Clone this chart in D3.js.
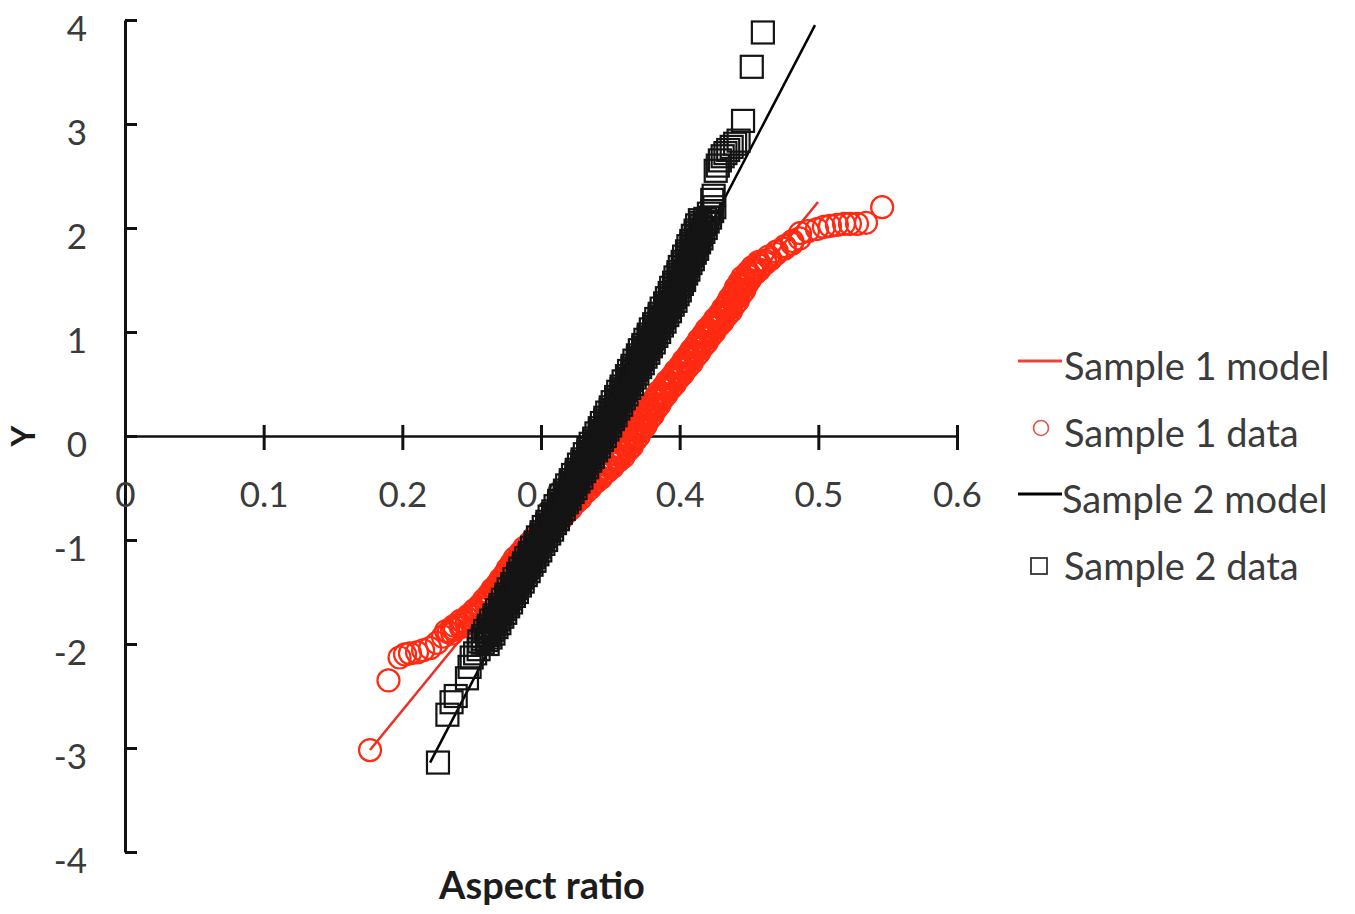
<!DOCTYPE html>
<html>
<head>
<meta charset="utf-8">
<script src="https://cdn.jsdelivr.net/npm/d3@7/dist/d3.min.js"></script>
<style>
  html, body { margin: 0; padding: 0; background: #fff; }
  svg { display: block; font-family: Lato, "Open Sans", sans-serif; }
</style>
</head>
<body>
<svg id="chart" width="1355" height="914"></svg>
<script>
// Tick values and labels
const xTicks = [0, 0.1, 0.2, 0.3, 0.4, 0.5, 0.6];
const xTickLabels = ["0", "0.1", "0.2", "0.3", "0.4", "0.5", "0.6"];
const yTicks = [-4, -3, -2, -1, 0, 1, 2, 3, 4];
const yTickLabels = ["-4", "-3", "-2", "-1", "0", "1", "2", "3", "4"];

// Fitted normal models: end points [aspect ratio, Y]
const sample1Model = [[0.1767, -3.02], [0.4998, 2.25]];
const sample2Model = [[0.2200, -3.14], [0.4976, 3.95]];

// Sample 1 observations [aspect ratio, Y]
const sample1Data = [
  [.1767,-3.02],[.1900,-2.35],[.1980,-2.13],[.2020,-2.10],[.2055,-2.09],[.2106,-2.08],
  [.2150,-2.06],[.2200,-2.04],[.2250,-1.99],[.2293,-1.93],
  [.2360,-1.9],[.2333,-1.8875],[.2316,-1.875],[.2379,-1.8625],[.2358,-1.85],[.2421,-1.8375],[.2374,-1.825],[.2422,-1.8125],
  [.2465,-1.8],[.2438,-1.7875],[.2421,-1.775],[.2484,-1.7625],[.2463,-1.75],[.2526,-1.7375],[.2479,-1.725],[.2527,-1.7125],
  [.2570,-1.7],[.2539,-1.6875],[.2519,-1.675],[.2578,-1.6625],[.2553,-1.65],[.2612,-1.6375],[.2561,-1.625],[.2606,-1.6125],
  [.2645,-1.6],[.2613,-1.5875],[.2590,-1.575],[.2648,-1.5625],[.2620,-1.55],[.2678,-1.5375],[.2625,-1.525],[.2668,-1.5125],
  [.2705,-1.5],[.2673,-1.4875],[.2650,-1.475],[.2708,-1.4625],[.2680,-1.45],[.2738,-1.4375],[.2685,-1.425],[.2728,-1.4125],
  [.2765,-1.4],[.2732,-1.3875],[.2709,-1.375],[.2766,-1.3625],[.2738,-1.35],[.2794,-1.3375],[.2741,-1.325],[.2783,-1.3125],
  [.2820,-1.3],[.2786,-1.2875],[.2761,-1.275],[.2817,-1.2625],[.2788,-1.25],[.2843,-1.2375],[.2789,-1.225],[.2829,-1.2125],
  [.2865,-1.2],[.2833,-1.1875],[.2811,-1.175],[.2869,-1.1625],[.2843,-1.15],[.2901,-1.1375],[.2849,-1.125],[.2892,-1.1125],
  [.2930,-1.1],[.2899,-1.0875],[.2879,-1.075],[.2938,-1.0625],[.2913,-1.05],[.2972,-1.0375],[.2921,-1.025],[.2966,-1.0125],
  [.3005,-1],[.2974,-0.9875],[.2953,-0.975],[.3011,-0.9625],[.2985,-0.95],[.3044,-0.9375],[.2993,-0.925],[.3036,-0.9125],
  [.3075,-0.9],[.3044,-0.8875],[.3023,-0.875],[.3081,-0.8625],[.3055,-0.85],[.3114,-0.8375],[.3063,-0.825],[.3106,-0.8125],
  [.3145,-0.8],[.3114,-0.7875],[.3093,-0.775],[.3151,-0.7625],[.3125,-0.75],[.3184,-0.7375],[.3133,-0.725],[.3176,-0.7125],
  [.3215,-0.7],[.3184,-0.6875],[.3163,-0.675],[.3221,-0.6625],[.3195,-0.65],[.3254,-0.6375],[.3203,-0.625],[.3246,-0.6125],
  [.3285,-0.6],[.3254,-0.5875],[.3233,-0.575],[.3291,-0.5625],[.3265,-0.55],[.3324,-0.5375],[.3273,-0.525],[.3316,-0.5125],
  [.3355,-0.5],[.3325,-0.4875],[.3305,-0.475],[.3365,-0.4625],[.3340,-0.45],[.3400,-0.4375],[.3350,-0.425],[.3395,-0.4125],
  [.3435,-0.4],[.3405,-0.3875],[.3385,-0.375],[.3445,-0.3625],[.3420,-0.35],[.3480,-0.3375],[.3430,-0.325],[.3475,-0.3125],
  [.3515,-0.3],[.3485,-0.2875],[.3465,-0.275],[.3525,-0.2625],[.3500,-0.25],[.3560,-0.2375],[.3510,-0.225],[.3555,-0.2125],
  [.3595,-0.2],[.3563,-0.1875],[.3540,-0.175],[.3598,-0.1625],[.3570,-0.15],[.3628,-0.1375],[.3575,-0.125],[.3618,-0.1125],
  [.3655,-0.1],[.3621,-0.0875],[.3598,-0.075],[.3654,-0.0625],[.3625,-0.05],[.3681,-0.0375],[.3628,-0.025],[.3669,-0.0125],
  [.3705,0],[.3671,0.0125],[.3648,0.025],[.3704,0.0375],[.3675,0.05],[.3731,0.0625],[.3678,0.075],[.3719,0.0875],
  [.3755,0.1],[.3721,0.1125],[.3698,0.125],[.3754,0.1375],[.3725,0.15],[.3781,0.1625],[.3728,0.175],[.3769,0.1875],
  [.3805,0.2],[.3771,0.2125],[.3748,0.225],[.3804,0.2375],[.3775,0.25],[.3831,0.2625],[.3778,0.275],[.3819,0.2875],
  [.3855,0.3],[.3821,0.3125],[.3798,0.325],[.3854,0.3375],[.3825,0.35],[.3881,0.3625],[.3828,0.375],[.3869,0.3875],
  [.3905,0.4],[.3873,0.4125],[.3850,0.425],[.3908,0.4375],[.3880,0.45],[.3938,0.4625],[.3885,0.475],[.3928,0.4875],
  [.3965,0.5],[.3933,0.5125],[.3910,0.525],[.3968,0.5375],[.3940,0.55],[.3998,0.5625],[.3945,0.575],[.3988,0.5875],
  [.4025,0.6],[.3993,0.6125],[.3970,0.625],[.4028,0.6375],[.4000,0.65],[.4058,0.6625],[.4005,0.675],[.4048,0.6875],
  [.4085,0.7],[.4052,0.7125],[.4029,0.725],[.4086,0.7375],[.4058,0.75],[.4114,0.7625],[.4061,0.775],[.4103,0.7875],
  [.4140,0.8],[.4107,0.8125],[.4084,0.825],[.4141,0.8375],[.4113,0.85],[.4169,0.8625],[.4116,0.875],[.4158,0.8875],
  [.4195,0.9],[.4162,0.9125],[.4139,0.925],[.4196,0.9375],[.4168,0.95],[.4224,0.9625],[.4171,0.975],[.4213,0.9875],
  [.4250,1],[.4218,1.0125],[.4195,1.025],[.4253,1.0375],[.4225,1.05],[.4283,1.0625],[.4230,1.075],[.4273,1.0875],
  [.4310,1.1],[.4278,1.1125],[.4255,1.125],[.4313,1.1375],[.4285,1.15],[.4343,1.1625],[.4290,1.175],[.4333,1.1875],
  [.4370,1.2],[.4336,1.2125],[.4313,1.225],[.4369,1.2375],[.4340,1.25],[.4396,1.2625],[.4343,1.275],[.4384,1.2875],
  [.4420,1.3],[.4386,1.3125],[.4361,1.325],[.4417,1.3375],[.4388,1.35],[.4443,1.3625],[.4389,1.375],[.4429,1.3875],
  [.4465,1.4],[.4430,1.4125],[.4405,1.425],[.4460,1.4375],[.4430,1.45],[.4485,1.4625],[.4430,1.475],[.4470,1.4875],
  [.4505,1.5],[.4474,1.5125],[.4453,1.525],[.4511,1.5375],[.4485,1.55],[.4544,1.5625],[.4493,1.575],[.4536,1.5875],
  [.4575,1.6],[.4545,1.6125],[.4525,1.625],[.4585,1.6375],[.4560,1.65],[.4620,1.6625],[.4570,1.675],[.4615,1.6875],
  [.4655,1.7],[.4640,1.725],[.4695,1.75],[.4700,1.775],[.4755,1.8],[.4758,1.825],[.4810,1.85],[.4813,1.875],[.4865,1.9],
  [.4868,1.95],[.4925,1.97],[.4990,1.99],[.5040,2.01],[.5084,2.02],[.5134,2.03],
  [.5185,2.04],[.5228,2.04],[.5279,2.04],[.5344,2.05],[.5460,2.20]
];

// Sample 2 observations [aspect ratio, Y]
const sample2Data = [
  [.2257,-3.14],[.2325,-2.68],[.2355,-2.56],[.2385,-2.50],[.2466,-2.33],[.2485,-2.22],
  [.2500,-2.13],[.2525,-2.09],[.2550,-2.05],
  [.2615,-2],[.2580,-1.9875],[.2556,-1.975],[.2611,-1.9625],[.2581,-1.95],[.2636,-1.9375],[.2582,-1.925],[.2622,-1.9125],
  [.2657,-1.9],[.2623,-1.8875],[.2598,-1.875],[.2653,-1.8625],[.2623,-1.85],[.2679,-1.8375],[.2624,-1.825],[.2664,-1.8125],
  [.2700,-1.8],[.2665,-1.7875],[.2640,-1.775],[.2695,-1.7625],[.2666,-1.75],[.2721,-1.7375],[.2666,-1.725],[.2706,-1.7125],
  [.2742,-1.7],[.2707,-1.6875],[.2682,-1.675],[.2738,-1.6625],[.2708,-1.65],[.2763,-1.6375],[.2708,-1.625],[.2749,-1.6125],
  [.2784,-1.6],[.2749,-1.5875],[.2725,-1.575],[.2780,-1.5625],[.2750,-1.55],[.2805,-1.5375],[.2751,-1.525],[.2791,-1.5125],
  [.2826,-1.5],[.2792,-1.4875],[.2767,-1.475],[.2822,-1.4625],[.2792,-1.45],[.2848,-1.4375],[.2793,-1.425],[.2833,-1.4125],
  [.2868,-1.4],[.2834,-1.3875],[.2809,-1.375],[.2864,-1.3625],[.2835,-1.35],[.2890,-1.3375],[.2835,-1.325],[.2875,-1.3125],
  [.2911,-1.3],[.2876,-1.2875],[.2851,-1.275],[.2907,-1.2625],[.2877,-1.25],[.2932,-1.2375],[.2877,-1.225],[.2918,-1.2125],
  [.2953,-1.2],[.2918,-1.1875],[.2894,-1.175],[.2949,-1.1625],[.2919,-1.15],[.2974,-1.1375],[.2920,-1.125],[.2960,-1.1125],
  [.2995,-1.1],[.2960,-1.0875],[.2936,-1.075],[.2991,-1.0625],[.2961,-1.05],[.3017,-1.0375],[.2962,-1.025],[.3002,-1.0125],
  [.3037,-1],[.3003,-0.9875],[.2978,-0.975],[.3033,-0.9625],[.3004,-0.95],[.3059,-0.9375],[.3004,-0.925],[.3044,-0.9125],
  [.3080,-0.9],[.3045,-0.8875],[.3020,-0.875],[.3076,-0.8625],[.3046,-0.85],[.3101,-0.8375],[.3046,-0.825],[.3087,-0.8125],
  [.3122,-0.8],[.3087,-0.7875],[.3062,-0.775],[.3118,-0.7625],[.3088,-0.75],[.3143,-0.7375],[.3089,-0.725],[.3129,-0.7125],
  [.3164,-0.7],[.3129,-0.6875],[.3105,-0.675],[.3160,-0.6625],[.3130,-0.65],[.3186,-0.6375],[.3131,-0.625],[.3171,-0.6125],
  [.3206,-0.6],[.3172,-0.5875],[.3147,-0.575],[.3202,-0.5625],[.3173,-0.55],[.3228,-0.5375],[.3173,-0.525],[.3213,-0.5125],
  [.3249,-0.5],[.3214,-0.4875],[.3189,-0.475],[.3244,-0.4625],[.3215,-0.45],[.3270,-0.4375],[.3215,-0.425],[.3256,-0.4125],
  [.3291,-0.4],[.3256,-0.3875],[.3231,-0.375],[.3287,-0.3625],[.3257,-0.35],[.3312,-0.3375],[.3258,-0.325],[.3298,-0.3125],
  [.3333,-0.3],[.3298,-0.2875],[.3274,-0.275],[.3329,-0.2625],[.3299,-0.25],[.3355,-0.2375],[.3300,-0.225],[.3340,-0.2125],
  [.3375,-0.2],[.3341,-0.1875],[.3316,-0.175],[.3371,-0.1625],[.3341,-0.15],[.3397,-0.1375],[.3342,-0.125],[.3382,-0.1125],
  [.3418,-0.1],[.3383,-0.0875],[.3358,-0.075],[.3413,-0.0625],[.3384,-0.05],[.3439,-0.0375],[.3384,-0.025],[.3425,-0.0125],
  [.3460,0],[.3425,0.0125],[.3400,0.025],[.3455,0.0375],[.3425,0.05],[.3480,0.0625],[.3424,0.075],[.3464,0.0875],
  [.3499,0.1],[.3464,0.1125],[.3439,0.125],[.3494,0.1375],[.3464,0.15],[.3519,0.1625],[.3464,0.175],[.3504,0.1875],
  [.3538,0.2],[.3503,0.2125],[.3478,0.225],[.3533,0.2375],[.3503,0.25],[.3558,0.2625],[.3503,0.275],[.3543,0.2875],
  [.3578,0.3],[.3543,0.3125],[.3517,0.325],[.3572,0.3375],[.3542,0.35],[.3597,0.3625],[.3542,0.375],[.3582,0.3875],
  [.3617,0.4],[.3582,0.4125],[.3557,0.425],[.3612,0.4375],[.3581,0.45],[.3636,0.4625],[.3581,0.475],[.3621,0.4875],
  [.3656,0.5],[.3621,0.5125],[.3596,0.525],[.3651,0.5375],[.3621,0.55],[.3676,0.5625],[.3620,0.575],[.3660,0.5875],
  [.3695,0.6],[.3660,0.6125],[.3635,0.625],[.3690,0.6375],[.3660,0.65],[.3715,0.6625],[.3660,0.675],[.3700,0.6875],
  [.3734,0.7],[.3699,0.7125],[.3674,0.725],[.3729,0.7375],[.3699,0.75],[.3754,0.7625],[.3699,0.775],[.3739,0.7875],
  [.3774,0.8],[.3739,0.8125],[.3713,0.825],[.3768,0.8375],[.3738,0.85],[.3793,0.8625],[.3738,0.875],[.3778,0.8875],
  [.3813,0.9],[.3778,0.9125],[.3753,0.925],[.3808,0.9375],[.3777,0.95],[.3832,0.9625],[.3777,0.975],[.3817,0.9875],
  [.3852,1],[.3817,1.0125],[.3792,1.025],[.3847,1.0375],[.3817,1.05],[.3872,1.0625],[.3816,1.075],[.3856,1.0875],
  [.3891,1.1],[.3856,1.1125],[.3831,1.125],[.3886,1.1375],[.3856,1.15],[.3911,1.1625],[.3856,1.175],[.3896,1.1875],
  [.3930,1.2],[.3895,1.2125],[.3870,1.225],[.3925,1.2375],[.3895,1.25],[.3950,1.2625],[.3895,1.275],[.3935,1.2875],
  [.3970,1.3],[.3934,1.3125],[.3908,1.325],[.3962,1.3375],[.3931,1.35],[.3985,1.3625],[.3928,1.375],[.3967,1.3875],
  [.4001,1.4],[.3965,1.4125],[.3939,1.425],[.3993,1.4375],[.3962,1.45],[.4016,1.4625],[.3960,1.475],[.3998,1.4875],
  [.4032,1.5],[.3996,1.5125],[.3970,1.525],[.4024,1.5375],[.3993,1.55],[.4047,1.5625],[.3991,1.575],[.4030,1.5875],
  [.4063,1.6],[.4027,1.6125],[.4001,1.625],[.4055,1.6375],[.4024,1.65],[.4078,1.6625],[.4022,1.675],[.4061,1.6875],
  [.4095,1.7],[.4058,1.7125],[.4032,1.725],[.4086,1.7375],[.4055,1.75],[.4109,1.7625],[.4053,1.775],[.4092,1.7875],
  [.4126,1.8],[.4090,1.8125],[.4063,1.825],[.4117,1.8375],[.4086,1.85],[.4140,1.8625],[.4084,1.875],[.4123,1.8875],
  [.4157,1.9],[.4121,1.9125],[.4095,1.925],[.4148,1.9375],[.4117,1.95],[.4171,1.9625],[.4115,1.975],[.4154,1.9875],
  [.4188,2],[.4152,2.0125],[.4126,2.025],[.4180,2.0375],[.4148,2.05],[.4202,2.0625],[.4146,2.075],[.4185,2.0875],
  [.4219,2.1],[.4211,2.1375],[.4234,2.1625],[.4250,2.2],
  [.4235,2.27],[.4245,2.31],[.4260,2.55],[.4275,2.60],[.4290,2.65],[.4310,2.69],
  [.4330,2.72],[.4350,2.75],[.4375,2.78],[.4400,2.81],[.4425,2.84],[.4457,3.03],
  [.4520,3.55],[.4600,3.88]
];

const seriesNames = ["Sample 1 model", "Sample 1 data", "Sample 2 model", "Sample 2 data"];
const xTitle = "Aspect ratio";
const yTitle = "Y";

const RED = "#ff2a12";
const RED_LINE = "#ec2f24";
const INK = "#3b3b3b";

const svg = d3.select("#chart");

const x = d3.scaleLinear().domain([0, 0.6]).range([125, 957]);
const y = d3.scaleLinear().domain([-4, 4]).range([852, 20]);

// Axes
const yAxis = d3.axisLeft(y)
  .tickValues(yTicks)
  .tickFormat((d, i) => yTickLabels[i])
  .tickSizeInner(-12)
  .tickSizeOuter(0)
  .tickPadding(38);

const gy = svg.append("g").attr("transform", `translate(${x(0)},0)`).call(yAxis);
gy.select(".domain").attr("stroke", "#111").attr("stroke-width", 3);
gy.selectAll(".tick line").attr("stroke", "#111").attr("stroke-width", 3);
gy.selectAll(".tick text")
  .attr("dy", null).attr("y", 20)
  .attr("fill", INK).style("font-size", "35px").style("font-family", "Lato, 'Open Sans', sans-serif");

const xAxis = d3.axisBottom(x)
  .tickValues(xTicks)
  .tickFormat((d, i) => xTickLabels[i])
  .tickSizeInner(14)
  .tickSizeOuter(0);

const gx = svg.append("g").attr("transform", `translate(0,${y(0)})`).call(xAxis);
gx.select(".domain").attr("stroke", "#111").attr("stroke-width", 2.5);
gx.selectAll(".tick line").attr("y1", -11).attr("stroke", "#111").attr("stroke-width", 3);
gx.selectAll(".tick text")
  .attr("dy", null).attr("y", 71)
  .attr("fill", INK).style("font-size", "35px").style("font-family", "Lato, 'Open Sans', sans-serif");

// Axis titles
svg.append("text")
  .attr("x", 542).attr("y", 899)
  .attr("text-anchor", "middle")
  .style("font-size", "38px").style("font-weight", "bold")
  .attr("fill", "#1c1c1c")
  .text(xTitle);

svg.append("text")
  .attr("transform", `translate(35,${y(0)}) rotate(-90)`)
  .attr("text-anchor", "middle")
  .style("font-size", "32px").style("font-weight", "bold")
  .attr("fill", "#1c1c1c")
  .text(yTitle);

const line = d3.line().x(d => x(d[0])).y(d => y(d[1]));

// Sample 1: model line then observations (open circles)
svg.append("path").datum(sample1Model)
  .attr("d", line).attr("fill", "none")
  .attr("stroke", RED_LINE).attr("stroke-width", 2.5);

svg.append("g").selectAll("circle").data(sample1Data).join("circle")
  .attr("cx", d => x(d[0])).attr("cy", d => y(d[1])).attr("r", 11)
  .attr("fill", "none").attr("stroke", RED).attr("stroke-width", 2.2);

// Sample 2: model line then observations (open squares)
svg.append("path").datum(sample2Model)
  .attr("d", line).attr("fill", "none")
  .attr("stroke", "#000").attr("stroke-width", 2.5);

const sq = 22;
svg.append("g").selectAll("rect").data(sample2Data).join("rect")
  .attr("x", d => x(d[0]) - sq / 2).attr("y", d => y(d[1]) - sq / 2)
  .attr("width", sq).attr("height", sq)
  .attr("fill", "none").attr("stroke", "#141414").attr("stroke-width", 2.2);

// Legend
const legend = svg.append("g").attr("transform", "translate(1018,0)");
const rowBase = [380, 447, 513, 580];
seriesNames.forEach((name, i) => {
  const g = legend.append("g");
  const base = rowBase[i];
  if (i === 0 || i === 2) {
    g.append("line")
      .attr("x1", 0).attr("x2", 44)
      .attr("y1", base - 19).attr("y2", base - 19)
      .attr("stroke", i === 0 ? "#e8443c" : "#000").attr("stroke-width", 3);
  } else if (i === 1) {
    g.append("circle").attr("cx", 23).attr("cy", base - 19).attr("r", 7.5)
      .attr("fill", "none").attr("stroke", "#e2504a").attr("stroke-width", 1.6);
  } else {
    g.append("rect").attr("x", 13).attr("y", base - 22).attr("width", 16).attr("height", 16)
      .attr("fill", "none").attr("stroke", "#333").attr("stroke-width", 1.8);
  }
  g.append("text")
    .attr("x", i === 2 ? 44 : 46).attr("y", base)
    .attr("fill", INK).style("font-size", "38px")
    .text(name);
});
</script>
</body>
</html>
